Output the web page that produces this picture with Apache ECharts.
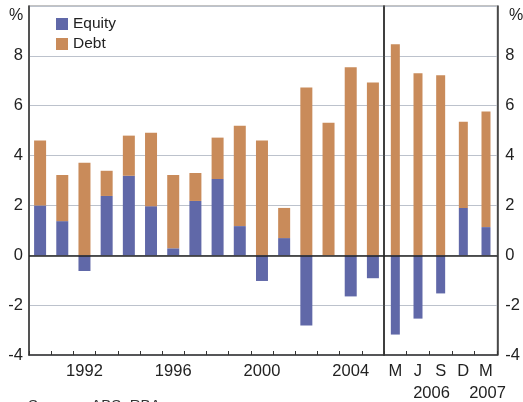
<!DOCTYPE html>
<html><head><meta charset="utf-8">
<script src="https://cdn.jsdelivr.net/npm/echarts@6/dist/echarts.min.js"></script>
<style>html,body{margin:0;padding:0;background:#fff}#c{width:523px;height:402px}</style>
</head><body><div id="c"></div>
<script>
const years = ['1990','1991','1992','1993','1994','1995','1996','1997','1998','1999','2000','2001','2002','2003','2004','2005'];
const equityAnnual = [2.0, 1.37, -0.63, 2.38, 3.19, 1.97, 0.28, 2.18, 3.06, 1.17, -1.03, 0.69, -2.82, 0.0, -1.65, -0.92];
const debtAnnual   = [2.6, 1.85, 3.71, 1.01, 1.61, 2.95, 2.94, 1.12, 1.66, 4.03, 4.6, 1.21, 6.73, 5.32, 7.54, 6.93];
const quarters = ['M 2006','J 2006','S 2006','D 2006','M 2007'];
const equityQuarter = [-3.18, -2.54, -1.53, 1.9, 1.13];
const debtQuarter   = [8.47, 7.3, 7.22, 3.46, 4.64];
const yTicks = [-4, -2, 0, 2, 4, 6, 8];
const labelYears = ['1992','1996','2000','2004'];

const FONT = "'Liberation Sans', Arial, sans-serif";
const FS = 16.5;
const EQ = '#6068a8', DB = '#c98b5a';
const chart = echarts.init(document.getElementById('c'));
const yBase = {
  type:'value', min:-4, max:10, interval:2,
  axisLine:{show:true, lineStyle:{color:'#333', width:1.5}},
  axisTick:{show:false},
  splitLine:{show:true, lineStyle:{color:'#bcc2cc', width:1.2}},
  axisLabel:{fontSize:FS, color:'#222', fontFamily:FONT,
    formatter: v => yTicks.includes(v) ? String(v) : ''}
};
const zeroLine = {silent:true, symbol:'none', label:{show:false},
  lineStyle:{color:'#222', width:1.5, type:'solid'}, data:[{yAxis:0}]};
chart.setOption({
  animation:false,
  textStyle:{fontFamily:FONT},
  legend:{orient:'vertical', left:51, top:11, itemWidth:12, itemHeight:12, itemGap:4,
    icon:'rect', data:['Equity','Debt'],
    textStyle:{fontSize:15.5, color:'#222', fontFamily:FONT}},
  grid:[
    {left:29, top:6, width:355, height:349, show:true, borderColor:'#888', borderWidth:1.2},
    {left:384, top:6, width:119, height:349, show:true, borderColor:'#888', borderWidth:1.2}
  ],
  xAxis:[
    {type:'category', gridIndex:0, data:years, boundaryGap:true,
      axisLine:{lineStyle:{color:'#333', width:1.5}, onZero:false},
      axisTick:{show:true, inside:true, length:4, interval:0, lineStyle:{color:'#333'}},
      axisLabel:{fontSize:FS, color:'#222', margin:8, fontFamily:FONT,
        interval:(i, v) => labelYears.includes(v)}},
    {type:'category', gridIndex:1, data:quarters, boundaryGap:true,
      axisLine:{lineStyle:{color:'#333', width:1.5}, onZero:false},
      axisTick:{show:true, inside:true, length:4, interval:0, lineStyle:{color:'#333'}},
      axisLabel:{fontSize:FS, color:'#222', margin:8, fontFamily:FONT, interval:0,
        formatter: v => v.split(' ')[0]}}
  ],
  yAxis:[
    Object.assign({}, yBase, {gridIndex:0, position:'left', axisLabel:Object.assign({}, yBase.axisLabel, {margin:6})}),
    Object.assign({}, yBase, {gridIndex:1, position:'right', axisLabel:Object.assign({}, yBase.axisLabel, {margin:8})}),
    {type:'value', gridIndex:0, position:'right', min:-4, max:10, interval:2,
      axisLine:{show:true, lineStyle:{color:'#222', width:1.5}},
      axisTick:{show:false}, axisLabel:{show:false}, splitLine:{show:false}}
  ],
  series:[
    {name:'Equity', type:'bar', stack:'a', xAxisIndex:0, yAxisIndex:0, barWidth:12,
      itemStyle:{color:EQ}, data:equityAnnual},
    {name:'Debt', type:'bar', stack:'a', xAxisIndex:0, yAxisIndex:0, barWidth:12,
      itemStyle:{color:DB}, data:debtAnnual, markLine:zeroLine},
    {name:'Equity', type:'bar', stack:'b', xAxisIndex:1, yAxisIndex:1, barWidth:9,
      itemStyle:{color:EQ}, data:equityQuarter},
    {name:'Debt', type:'bar', stack:'b', xAxisIndex:1, yAxisIndex:1, barWidth:9,
      itemStyle:{color:DB}, data:debtQuarter, markLine:zeroLine}
  ],
  graphic:[
    {type:'text', left:9, top:8, style:{text:'%', fontSize:16, fill:'#222', fontFamily:FONT}},
    {type:'text', left:509, top:8, style:{text:'%', fontSize:16, fill:'#222', fontFamily:FONT}},
    {type:'text', x:431.5, y:385, style:{text:'2006', fontSize:FS, fill:'#222', fontFamily:FONT, align:'center'}},
    {type:'text', x:487.5, y:385, style:{text:'2007', fontSize:FS, fill:'#222', fontFamily:FONT, align:'center'}},
    {type:'text', x:28, y:398, style:{text:'Sources: ABS; RBA', fontSize:15, fill:'#333', fontFamily:FONT}}
  ]
});
</script></body></html>
